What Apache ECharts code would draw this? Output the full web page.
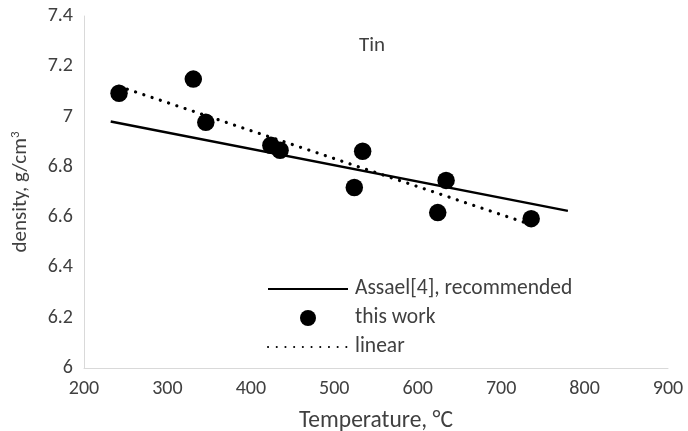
<!DOCTYPE html>
<html>
<head>
<meta charset="utf-8">
<script src="https://cdn.jsdelivr.net/npm/echarts@6/dist/echarts.min.js"></script>
<style>
  html, body { margin: 0; padding: 0; background: #fff; }
  #chart { width: 688px; height: 431px; }
</style>
</head>
<body>
<div id="chart"></div>
<script>
// Measured density of liquid tin (this work)
const temperatures = [242, 331, 346, 424, 435, 534, 524, 634, 624, 736];
const densities = [7.093, 7.149, 6.977, 6.886, 6.866, 6.862, 6.718, 6.746, 6.618, 6.594];

// Recommended correlation (Assael[4]), end points
const assaelT = [232, 780];
const assaelRho = [6.98, 6.625];

// Linear trend through this work, end points
const trendT = [242, 736];
const trendRho = [7.12, 6.57];

const xTicks = [200, 300, 400, 500, 600, 700, 800, 900];
const yTicks = [6, 6.2, 6.4, 6.6, 6.8, 7, 7.2, 7.4];

const FONT = "Carlito, Lato, 'Open Sans', sans-serif";
const TEXT = '#404040';

const pairs = (xs, ys) => xs.map((x, i) => [x, ys[i]]);

const chart = echarts.init(document.getElementById('chart'), null, { renderer: 'canvas' });

chart.setOption({
  animation: false,
  backgroundColor: '#fff',
  title: {
    text: 'Tin',
    left: 372,
    top: 35,
    textAlign: 'center',
    padding: 0,
    textStyle: { fontFamily: FONT, fontSize: 21, fontWeight: 'normal', color: TEXT }
  },
  grid: { left: 84, right: 20, top: 16, bottom: 63, containLabel: false, outerBoundsMode: 'none' },
  legend: {
    orient: 'vertical',
    left: 267,
    top: 278,
    padding: 0,
    itemWidth: 80,
    itemHeight: 16,
    itemGap: 7,
    textStyle: { fontFamily: FONT, fontSize: 21.5, color: TEXT, padding: [0, 0, 0, 2] },
    data: [
      { name: 'Assael[4], recommended', itemStyle: { opacity: 0 } },
      { name: 'this work' },
      { name: 'linear', itemStyle: { opacity: 0 } }
    ]
  },
  xAxis: {
    type: 'value',
    min: xTicks[0],
    max: xTicks[xTicks.length - 1],
    interval: 100,
    name: 'Temperature, °C',
    nameLocation: 'middle',
    nameGap: 41,
    nameTextStyle: { fontFamily: FONT, fontSize: 23.5, color: TEXT },
    axisLine: { show: true, lineStyle: { color: '#d9d9d9', width: 1 } },
    axisTick: { show: false },
    splitLine: { show: false },
    axisLabel: { fontFamily: FONT, fontSize: 20, color: TEXT, margin: 11 }
  },
  yAxis: {
    type: 'value',
    min: yTicks[0],
    max: yTicks[yTicks.length - 1],
    interval: 0.2,
    name: 'density, g/cm{sup|3}',
    nameLocation: 'middle',
    nameGap: 51,
    nameRotate: 90,
    nameTextStyle: {
      fontFamily: FONT, fontSize: 21, color: TEXT,
      rich: { sup: { fontFamily: FONT, fontSize: 13, color: TEXT, verticalAlign: 'top', padding: [0, 0, 11, 0] } }
    },
    axisLine: { show: true, lineStyle: { color: '#d9d9d9', width: 1 } },
    axisTick: { show: false },
    splitLine: { show: false },
    axisLabel: {
      fontFamily: FONT, fontSize: 20, color: TEXT, margin: 11,
      padding: [6, 0, 0, 0],
      formatter: v => String(Math.round(v * 10) / 10)
    }
  },
  series: [
    {
      name: 'Assael[4], recommended',
      type: 'line',
      data: pairs(assaelT, assaelRho),
      showSymbol: false,
      symbol: 'none',
      lineStyle: { color: '#000', width: 2.5 },
      itemStyle: { color: '#000' },
      z: 2
    },
    {
      name: 'this work',
      type: 'scatter',
      data: pairs(temperatures, densities),
      symbol: 'circle',
      symbolSize: 17.5,
      itemStyle: { color: '#000', opacity: 1 },
      z: 3
    },
    {
      name: 'linear',
      type: 'line',
      data: pairs(trendT, trendRho),
      showSymbol: false,
      symbol: 'none',
      lineStyle: { color: '#000', width: 3.2, type: [0.1, 8.6], cap: 'round' },
      itemStyle: { color: '#000' },
      z: 4
    }
  ]
});
</script>
</body>
</html>
